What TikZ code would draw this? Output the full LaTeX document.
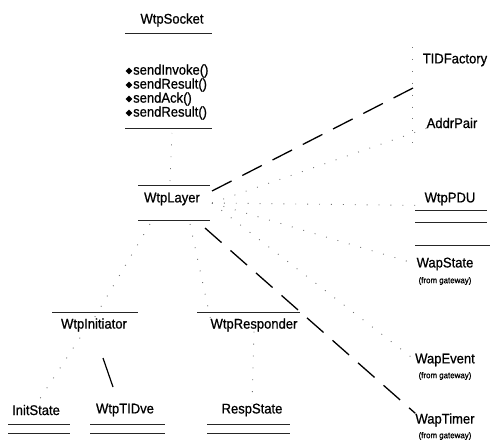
\documentclass[tikz,border=0pt]{standalone}
\usepackage{fontspec}
\setmainfont{Liberation Sans}[FakeStretch=0.93,FakeBold=0.8]
\begin{document}
\begin{tikzpicture}[x=1pt,y=-1pt,
  cname/.style={inner sep=0pt,font=\fontsize{14}{15}\selectfont},
  meth/.style={inner sep=0pt,anchor=west,font=\fontsize{14}{15}\selectfont},
  pkg/.style={inner sep=0pt,font=\fontsize{8.5}{9}\selectfont},
  rule/.style={line width=0.8pt,black!85},
  assoc/.style={line width=1.3pt,dash pattern=on 22pt off 12pt},
  depend/.style={line width=0.9pt,black!55,dash pattern=on 0.9pt off 11pt},
  link/.style={line width=1.2pt}]
\useasboundingbox (0,0) rectangle (496,442);

% WtpSocket with its operations
\node[cname] (sock) at (172,20) {WtpSocket};
\draw[rule] (125,33) -- (212,33);
\foreach \y/\t [count=\i] in {71/sendInvoke(),85/sendResult(),99/sendAck(),113/sendResult()} {
  \fill (129,\y-3.4) -- (132.4,\y) -- (129,\y+3.4) -- (125.6,\y) -- cycle;
  \node[meth] (op\i) at (133,\y) {\t};
}
\draw[rule] (125,128) -- (212,128);
\coordinate (sockb) at (172,133);

% WtpLayer
\draw[rule] (138,185) -- (210,185);
\node[cname] (layer) at (172,199) {WtpLayer};
\draw[rule] (138,220) -- (210,220);
\coordinate (layTR) at (212,191);
\coordinate (layR) at (212,203);
\coordinate (layBR) at (205,228);
\coordinate (layBL) at (150,224);
\coordinate (layB) at (190,224);
\coordinate (layT) at (170,181);

% right-hand column
\node[cname] (tid) at (455,60) {TIDFactory};
\coordinate (tidend) at (413,88);
\node[cname] (addr) at (452,123) {AddrPair};
\node[cname] (pdu) at (450,199) {WtpPDU};
\draw[rule] (415,210) -- (487,210);
\draw[rule] (415,222) -- (487,222);
\draw[rule] (415,245) -- (490,245);
\node[cname] (wstate) at (445,264) {WapState};
\node[pkg] at (445,281) {(from gateway)};
\node[cname] (wevent) at (445,360) {WapEvent};
\node[pkg] at (445,376) {(from gateway)};
\node[cname] (wtimer) at (445,420) {WapTimer};
\node[pkg] at (445,436) {(from gateway)};
\draw[depend] (412,47) -- (412,145);

% lower classes
\draw[rule] (52,312) -- (138,312);
\node[cname] (init) at (94,325) {WtpInitiator};
\draw[rule] (197,312) -- (300,312);
\node[cname] (resp) at (254,325) {WtpResponder};
\node[cname] (istate) at (36,410) {InitState};
\draw[rule] (8,424) -- (70,424);
\draw[rule] (8,433) -- (70,433);
\node[cname] (tidve) at (125,410) {WtpTIDve};
\draw[rule] (90,424) -- (165,424);
\draw[rule] (90,433) -- (165,433);
\node[cname] (rstate) at (252,410) {RespState};
\draw[rule] (207,424) -- (290,424);
\draw[rule] (207,433) -- (290,433);

% associations
\draw[assoc] (layTR) -- (tidend);
\draw[assoc] (layBR) -- (wtimer.north west);
\draw[link] (103,358) -- (113,387);

% dependencies
\draw[depend] (layT) -- (sockb);
\draw[depend] (layR) -- (addr.south west);
\draw[depend] (layR) -- (pdu.south west);
\draw[depend] (layR) -- (wstate.west);
\draw[depend] (layR) -- (wevent.west);
\draw[depend] (layBL) -- (init.north);
\draw[depend] (layB) -- (resp.north west);
\draw[depend] (init.south) ++(-14,6) -- (istate.north);
\draw[depend] (resp.south) -- (rstate.north);
\end{tikzpicture}
\end{document}
